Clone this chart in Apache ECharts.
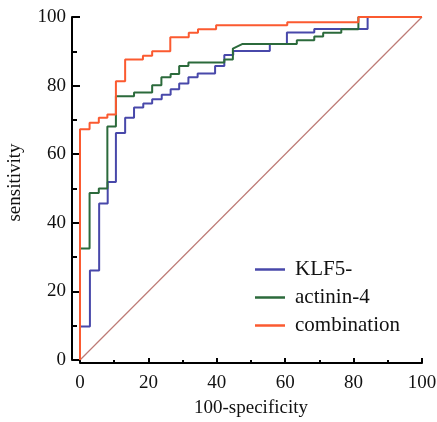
<!DOCTYPE html>
<html><head><meta charset="utf-8">
<script src="https://cdn.jsdelivr.net/npm/echarts@6/dist/echarts.min.js"></script>
<style>html,body{margin:0;padding:0;background:#fff}#c{width:437px;height:422px}</style>
</head><body><div id="c"></div>
<script>
// ---- data (step points of each ROC curve: x = 100-specificity, y = sensitivity) ----
const seriesNames = ['KLF5-', 'actinin-4', 'combination'];
const axisMin = 0, axisMax = 100, axisInterval = 20;

const klf5X = [0, 0, 2.9, 5.6, 8.1, 10.5, 13.2, 15.8, 18.5, 21.1, 23.9, 26.5, 29.0, 31.7, 34.4, 39.5, 42.2, 44.8, 55.5, 60.5, 68.5, 84.1, 100];
const klf5Y = [0, 9.8, 26.1, 45.6, 51.9, 66.2, 70.6, 73.6, 74.8, 76.0, 77.3, 78.9, 80.6, 82.4, 83.5, 85.7, 88.9, 90.1, 92.1, 95.5, 96.5, 100, 100];

const actininX = [0, 0, 2.8, 5.5, 8.0, 10.5, 15.8, 21.1, 23.8, 26.5, 29.0, 31.7, 42.2, 44.7, 47.4, 63.4, 68.5, 71.1, 76.4, 81.4, 100];
const actininY = [0, 32.5, 48.7, 50.0, 68.1, 76.9, 78.0, 80.1, 82.4, 83.4, 85.7, 86.7, 87.6, 90.8, 92.1, 93.2, 94.3, 95.4, 96.4, 100, 100];
const actininDiagonalSteps = [14]; // step reached by a tie (diagonal segment)

const combX = [0, 0, 2.8, 5.5, 8.0, 10.5, 13.2, 18.4, 21.1, 26.4, 31.8, 34.5, 39.8, 60.6, 81.4, 100];
const combY = [0, 67.3, 69.2, 70.6, 71.6, 81.3, 87.6, 88.7, 90.0, 94.1, 95.4, 96.4, 97.6, 98.5, 100, 100];

const refX = [0, 100];
const refY = [0, 100];

function buildSteps(xs, ys, diag) {
  diag = diag || [];
  const out = [[xs[0], ys[0]]];
  for (let i = 1; i < xs.length; i++) {
    if (diag.indexOf(i) < 0) out.push([xs[i], ys[i - 1]]);
    out.push([xs[i], ys[i]]);
  }
  return out;
}

const FONT = 'Liberation Serif';
const colors = { klf: '#4848aa', act: '#2b6a3b', comb: '#fb5a30', ref: '#bd7a75' };

const chart = echarts.init(document.getElementById('c'), null, { renderer: 'canvas' });

function blackLine() { return { color: '#000', width: 2 }; }

chart.setOption({
  animation: false,
  backgroundColor: '#fff',
  grid: { left: 80, right: 15, top: 17, bottom: 62, containLabel: false, outerBoundsMode: 'none' },
  legend: {
    data: seriesNames,
    orient: 'vertical',
    left: 255, top: 259,
    padding: 0,
    itemGap: 7,
    itemWidth: 30, itemHeight: 2.5,
    icon: 'rect',
    textStyle: { fontFamily: FONT, fontSize: 21, color: '#111', lineHeight: 21, padding: [0, 0, 0, 5] }
  },
  xAxis: {
    type: 'value', min: axisMin, max: axisMax, interval: axisInterval, position: 'bottom', offset: 3,
    name: '100-specificity', nameLocation: 'middle', nameGap: 36,
    nameTextStyle: { fontFamily: FONT, fontSize: 19, color: '#111' },
    axisLine: { show: true, onZero: false, lineStyle: blackLine() },
    axisTick: { show: true, inside: true, length: 5, lineStyle: blackLine() },
    minorTick: { show: true, splitNumber: 2, length: 3, lineStyle: blackLine() },
    axisLabel: { show: true, margin: 11, fontFamily: FONT, fontSize: 19, color: '#111' },
    splitLine: { show: false }
  },
  yAxis: {
    type: 'value', min: axisMin, max: axisMax, interval: axisInterval, position: 'left', offset: 8,
    name: 'sensitivity', nameLocation: 'middle', nameGap: 47,
    nameTextStyle: { fontFamily: FONT, fontSize: 19, color: '#111', padding: [0, 0, 0, 12] },
    axisLine: { show: true, onZero: false, lineStyle: blackLine() },
    axisTick: { show: true, inside: true, length: 8, lineStyle: blackLine() },
    minorTick: { show: true, splitNumber: 2, length: 5, lineStyle: blackLine() },
    axisLabel: { show: true, margin: 6, fontFamily: FONT, fontSize: 19, color: '#111' },
    splitLine: { show: false }
  },
  series: [
    {
      name: 'reference', type: 'line', data: refX.map((x, i) => [x, refY[i]]),
      symbol: 'none', silent: true, lineStyle: { color: colors.ref, width: 1.2 }, z: 1
    },
    {
      name: seriesNames[0], type: 'line', data: buildSteps(klf5X, klf5Y),
      symbol: 'none', color: colors.klf, lineStyle: { color: colors.klf, width: 2 }, z: 2
    },
    {
      name: seriesNames[1], type: 'line', data: buildSteps(actininX, actininY, actininDiagonalSteps),
      symbol: 'none', color: colors.act, lineStyle: { color: colors.act, width: 2 }, z: 3
    },
    {
      name: seriesNames[2], type: 'line', data: buildSteps(combX, combY),
      symbol: 'none', color: colors.comb, lineStyle: { color: colors.comb, width: 2 }, z: 4
    }
  ]
});

// force a full, immediate repaint (the diagnostic runs that did this showed the axis lines)
const zr = chart.getZr();
zr.storage.getDisplayList(true);
zr.refreshImmediately();
setTimeout(function () { zr.storage.getDisplayList(true); zr.refreshImmediately(); }, 30);
</script>
</body></html>
